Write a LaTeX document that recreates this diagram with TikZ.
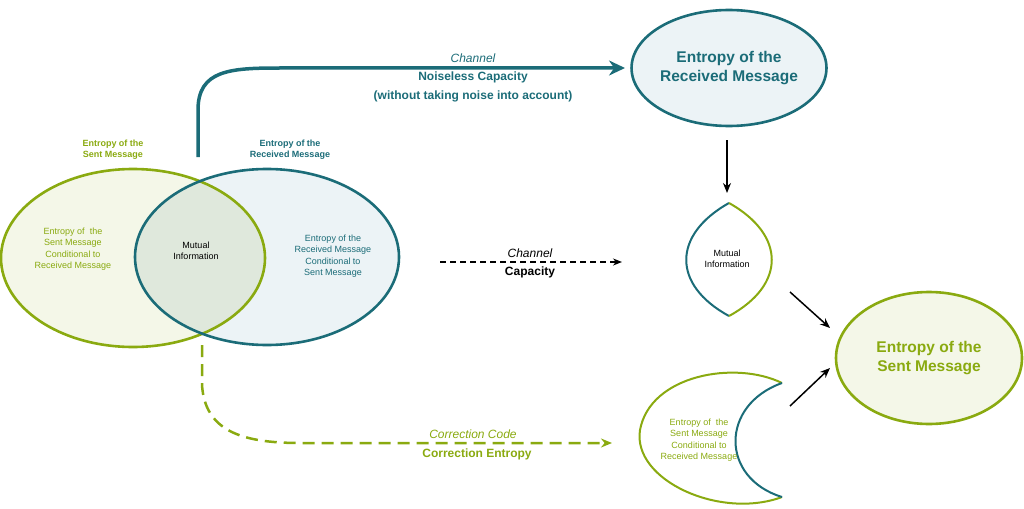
\documentclass[tikz,border=0pt]{standalone}
\usepackage{fontspec}
\setmainfont{Liberation Sans}
\usetikzlibrary{arrows.meta,shapes.geometric}
\definecolor{gr}{HTML}{8AAA10}
\definecolor{tl}{HTML}{1B6C78}
\definecolor{grf}{HTML}{F4F7E8}
\definecolor{tlf}{HTML}{ECF3F6}
\definecolor{mid}{HTML}{DFE8DC}
\begin{document}
\begin{tikzpicture}[x=1pt,y=-1pt,
 sm/.style={font=\fontsize{9}{11.5}\selectfont,align=center},
 smb/.style={font=\fontsize{9}{11}\selectfont\bfseries,align=center},
 big/.style={font=\fontsize{15.5}{19}\selectfont\bfseries,align=center},
 arr/.style={-{Stealth[length=10pt,width=8pt]},line width=1.5pt}]
\useasboundingbox (0,0) rectangle (1024,508);
% Venn
\fill[grf] (133,258) ellipse [x radius=132,y radius=89];
\fill[tlf] (267,257) ellipse [x radius=132,y radius=88];
\begin{scope}
\clip (133,258) ellipse [x radius=132,y radius=89];
\fill[mid] (267,257) ellipse [x radius=132,y radius=88];
\end{scope}
\draw[gr,line width=2.6pt] (133,258) ellipse [x radius=132,y radius=89];
\draw[tl,line width=2.6pt] (267,257) ellipse [x radius=132,y radius=88];
\node[smb,text=gr] (ls) at (113,150) {Entropy of the\\Sent Message};
\node[smb,text=tl] (lr) at (290,150) {Entropy of the\\Received Message};
\node[sm,text=gr] (c1) at (73,249) {Entropy of\ \ the\\Sent Message\\Conditional to\\Received Message};
\node[sm] (mi) at (196,251) {Mutual\\Information};
\node[sm,text=tl] (c2) at (333,256) {Entropy of the\\Received Message\\Conditional to\\Sent Message};
% top ellipse
\node[draw=tl,fill=tlf,line width=2.6pt,ellipse,inner sep=0pt,minimum width=194pt,minimum height=116pt,big,text=tl] (er) at (729,68) {Entropy of the\\Received Message};
% bottom ellipse
\node[draw=gr,fill=grf,line width=2.6pt,ellipse,inner sep=0pt,minimum width=186pt,minimum height=132pt,big,text=gr] (es) at (929,358) {Entropy of the\\Sent Message};
% lens
\draw[tl,line width=2pt] (729,203) .. controls (672,235) and (672,285) .. (729,316);
\draw[gr,line width=2pt] (729,203) .. controls (786,235) and (786,285) .. (729,316);
\node[sm] (lens) at (727,259) {Mutual\\Information};
% crescent
\draw[gr,line width=2pt] (782,383) .. controls (735,360) and (650,375) .. (640,430) .. controls (632,480) and (720,520) .. (782,497);
\draw[tl,line width=2pt] (782,383) .. controls (720,405) and (720,478) .. (782,497);
\node[sm,text=gr] (cr) at (699,440) {Entropy of\ \ the\\Sent Message\\Conditional to\\Received Message};
% arrows
\coordinate (t0) at (198,157);
\coordinate (t1) at (625,68);
\draw[tl,line width=3.5pt,-{Stealth[length=16pt,width=15pt]}] (t0) -- (198,110) .. controls (198,70) and (230,68) .. (280,68) -- (t1);
\node[text=tl,font=\fontsize{12}{14}\selectfont\itshape] (ch1) at (473,58) {Channel};
\node[align=center,text=tl,font=\fontsize{12}{19}\selectfont\bfseries] (nc) at (473,87) {Noiseless Capacity\\(without taking noise into account)};
\coordinate (d0) at (440,262);
\coordinate (d1) at (622,262);
\draw[line width=1.5pt,dash pattern=on 6pt off 4pt,-{Stealth[length=9pt,width=7pt]}] (d0) -- (d1);
\node[font=\fontsize{12}{14}\selectfont\itshape] (ch2) at (530,253) {Channel};
\node[font=\fontsize{12}{14}\selectfont\bfseries] (cap) at (530,272) {Capacity};
\coordinate (g0) at (202,345);
\coordinate (g1) at (612,443);
\draw[gr,line width=2.5pt,dash pattern=on 12pt off 7pt,-{Stealth[length=11pt,width=9pt]}] (g0) -- (202,385) .. controls (205,430) and (240,443) .. (300,443) -- (g1);
\node[text=gr,font=\fontsize{12}{14}\selectfont\itshape] (cc) at (473,434) {Correction Code};
\node[text=gr,font=\fontsize{12}{14}\selectfont\bfseries] (ce) at (477,454) {Correction Entropy};
\coordinate (a0) at (727,140); \coordinate (a1) at (727,193);
\draw[arr] (a0) -- (a1);
\coordinate (b0) at (790,292); \coordinate (b1) at (830,328);
\draw[arr] (b0) -- (b1);
\coordinate (e0) at (790,406); \coordinate (e1) at (830,368);
\draw[arr] (e0) -- (e1);
\end{tikzpicture}
\end{document}
